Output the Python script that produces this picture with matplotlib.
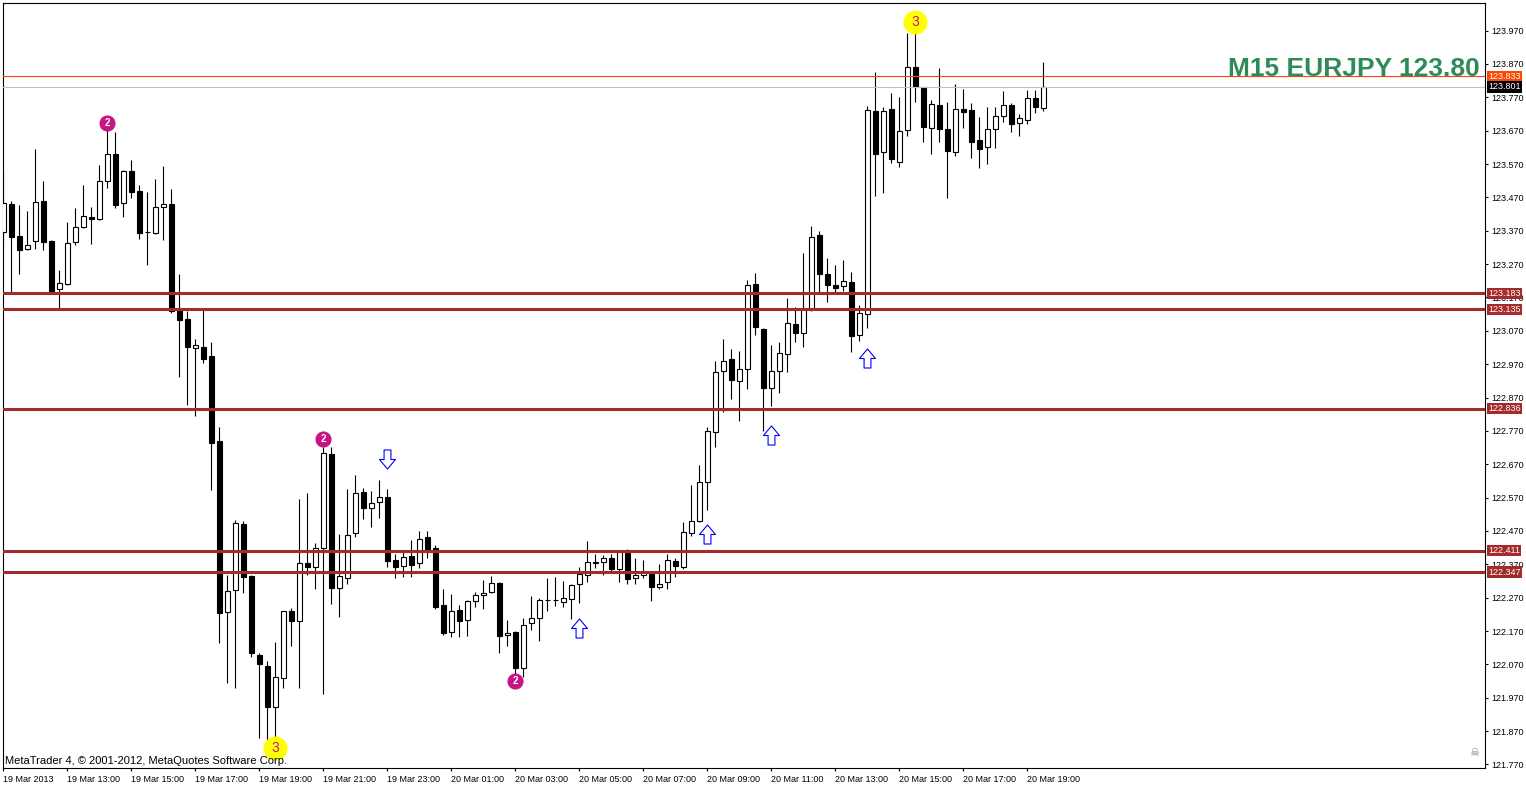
import numpy as np
import matplotlib
matplotlib.use("Agg")
import matplotlib.pyplot as plt
from matplotlib.path import Path
from matplotlib.transforms import blended_transform_factory

plt.rcParams["font.family"] = ["Liberation Sans", "DejaVu Sans"]

# EURJPY M15 bars, 19 Mar 2013 11:00 -> 20 Mar 2013 19:30 (bar index 0..130)
opens = [
    123.365, 123.449, 123.354, 123.314, 123.338, 123.459, 123.339, 123.195, 123.210, 123.335,
    123.380, 123.412, 123.404, 123.518, 123.600, 123.452, 123.549, 123.489, 123.367, 123.364,
    123.440, 123.449, 123.133, 123.105, 123.018, 123.021, 122.995, 122.740, 122.228, 122.292,
    122.491, 122.335, 122.097, 122.065, 121.941, 122.028, 122.229, 122.201, 122.373, 122.361,
    122.418, 122.700, 122.298, 122.328, 122.463, 122.586, 122.538, 122.556, 122.571, 122.383,
    122.366, 122.395, 122.373, 122.451, 122.418, 122.248, 122.168, 122.232, 122.202, 122.259,
    122.277, 122.286, 122.313, 122.157, 122.167, 122.060, 122.193, 122.208, 122.262, 122.262,
    122.258, 122.265, 122.310, 122.337, 122.376, 122.376, 122.388, 122.355, 122.403, 122.328,
    122.337, 122.340, 122.303, 122.316, 122.380, 122.361, 122.463, 122.500, 122.618, 122.766,
    122.951, 122.986, 122.921, 122.955, 123.211, 123.076, 122.898, 122.950, 123.000, 123.090,
    123.063, 123.135, 123.357, 123.240, 123.207, 123.204, 123.216, 123.056, 123.120, 123.729,
    123.605, 123.735, 123.577, 123.672, 123.860, 123.800, 123.677, 123.746, 123.674, 123.607,
    123.735, 123.732, 123.642, 123.620, 123.674, 123.713, 123.746, 123.692, 123.701, 123.767,
    123.737,
]
highs = [
    123.547, 123.459, 123.447, 123.429, 123.615, 123.519, 123.342, 123.253, 123.396, 123.438,
    123.507, 123.441, 123.567, 123.675, 123.666, 123.552, 123.582, 123.507, 123.486, 123.525,
    123.564, 123.495, 123.241, 123.128, 123.045, 123.138, 123.036, 122.781, 122.338, 122.503,
    122.500, 122.337, 122.103, 122.080, 122.138, 122.230, 122.238, 122.565, 122.583, 122.433,
    122.723, 122.721, 122.460, 122.595, 122.637, 122.598, 122.590, 122.623, 122.595, 122.400,
    122.409, 122.443, 122.470, 122.470, 122.427, 122.295, 122.281, 122.248, 122.263, 122.286,
    122.323, 122.335, 122.318, 122.203, 122.170, 122.208, 122.275, 122.268, 122.328, 122.332,
    122.320, 122.310, 122.362, 122.440, 122.400, 122.398, 122.400, 122.408, 122.415, 122.388,
    122.383, 122.342, 122.370, 122.401, 122.388, 122.496, 122.608, 122.668, 122.783, 122.981,
    123.046, 123.016, 123.010, 123.223, 123.243, 123.078, 123.028, 123.036, 123.168, 123.141,
    123.304, 123.384, 123.369, 123.288, 123.268, 123.283, 123.246, 123.148, 123.744, 123.847,
    123.740, 123.782, 123.771, 123.963, 123.969, 123.802, 123.762, 123.857, 123.756, 123.810,
    123.795, 123.752, 123.711, 123.740, 123.741, 123.789, 123.752, 123.720, 123.792, 123.792,
    123.876,
]
lows = [
    123.327, 123.180, 123.240, 123.313, 123.314, 123.311, 123.187, 123.136, 123.207, 123.328,
    123.378, 123.331, 123.402, 123.499, 123.437, 123.412, 123.469, 123.346, 123.266, 123.361,
    123.343, 123.123, 122.933, 122.848, 122.815, 122.975, 122.593, 122.133, 122.015, 122.000,
    122.283, 122.093, 121.850, 121.843, 121.840, 121.998, 122.126, 121.998, 122.338, 122.295,
    121.980, 122.250, 122.213, 122.310, 122.451, 122.505, 122.483, 122.510, 122.361, 122.328,
    122.331, 122.331, 122.360, 122.388, 122.235, 122.158, 122.153, 122.153, 122.156, 122.243,
    122.237, 122.284, 122.105, 122.126, 122.038, 122.033, 122.173, 122.141, 122.231, 122.246,
    122.243, 122.206, 122.255, 122.318, 122.358, 122.338, 122.351, 122.318, 122.311, 122.312,
    122.330, 122.261, 122.296, 122.297, 122.333, 122.356, 122.454, 122.498, 122.533, 122.723,
    122.828, 122.866, 122.801, 122.895, 123.058, 122.771, 122.846, 122.884, 122.948, 123.036,
    123.023, 123.128, 123.183, 123.156, 123.180, 123.188, 123.008, 123.038, 123.078, 123.475,
    123.484, 123.572, 123.560, 123.655, 123.755, 123.637, 123.600, 123.637, 123.469, 123.595,
    123.677, 123.589, 123.559, 123.570, 123.619, 123.695, 123.667, 123.655, 123.691, 123.724,
    123.730,
]
closes = [
    123.452, 123.352, 123.311, 123.326, 123.455, 123.337, 123.190, 123.214, 123.332, 123.380,
    123.413, 123.406, 123.519, 123.600, 123.448, 123.549, 123.487, 123.364, 123.365, 123.440,
    123.449, 123.129, 123.101, 123.021, 123.027, 122.987, 122.735, 122.225, 122.289, 122.493,
    122.331, 122.103, 122.070, 121.943, 122.031, 122.229, 122.201, 122.373, 122.361, 122.418,
    122.703, 122.300, 122.335, 122.457, 122.583, 122.538, 122.553, 122.571, 122.381, 122.363,
    122.393, 122.368, 122.445, 122.416, 122.243, 122.165, 122.229, 122.201, 122.259, 122.277,
    122.283, 122.313, 122.156, 122.163, 122.059, 122.187, 122.208, 122.262, 122.262, 122.263,
    122.268, 122.307, 122.340, 122.376, 122.374, 122.388, 122.357, 122.406, 122.325, 122.337,
    122.346, 122.303, 122.311, 122.382, 122.366, 122.466, 122.499, 122.616, 122.770, 122.946,
    122.979, 122.923, 122.955, 123.208, 123.080, 122.898, 122.949, 123.003, 123.093, 123.063,
    123.135, 123.350, 123.240, 123.206, 123.197, 123.219, 123.053, 123.123, 123.732, 123.599,
    123.729, 123.584, 123.669, 123.860, 123.800, 123.680, 123.749, 123.676, 123.610, 123.735,
    123.725, 123.637, 123.616, 123.674, 123.713, 123.746, 123.691, 123.707, 123.767, 123.742,
    123.801,
]

# horizontal levels
level_prices = [123.183, 123.135, 122.836, 122.411, 122.347]
ask_price = 123.833
bid_price = 123.801

# signal markers (bar index, price)
sig2_bars = [13, 40, 64]
sig2_prices = [123.692, 122.745, 122.020]
sig3_bars = [34, 114]
sig3_prices = [121.819, 123.995]
up_bars = [72, 88, 96, 108]
up_prices = [122.179, 122.462, 122.759, 122.989]
down_bars = [48]
down_prices = [122.687]

# time axis labels (every 8 bars = 2 h)
time_labels = ["19 Mar 2013", "19 Mar 13:00", "19 Mar 15:00", "19 Mar 17:00", "19 Mar 19:00",
               "19 Mar 21:00", "19 Mar 23:00", "20 Mar 01:00", "20 Mar 03:00", "20 Mar 05:00",
               "20 Mar 07:00", "20 Mar 09:00", "20 Mar 11:00", "20 Mar 13:00", "20 Mar 15:00",
               "20 Mar 17:00", "20 Mar 19:00"]
price_ticks = [121.77, 121.87, 121.97, 122.07, 122.17, 122.27, 122.37, 122.47, 122.57, 122.67,
               122.77, 122.87, 122.97, 123.07, 123.17, 123.27, 123.37, 123.47, 123.57, 123.67,
               123.77, 123.87, 123.97]

W, H = 1526, 785
fig = plt.figure(figsize=(W / 100, H / 100), dpi=100)
fig.patch.set_facecolor("white")
ax = fig.add_axes([2.7 / W, (H - 768.3) / H, (1485 - 2.7) / W, (768.3 - 2.7) / H])
ax.set_xlim(-0.075, 185.21)
ax.set_ylim(121.7586, 124.0536)

o = np.array(opens); h = np.array(highs); l = np.array(lows); c = np.array(closes)
idx = np.arange(len(o))
bull = c > o
bottoms = np.minimum(o, c)
heights = np.maximum(np.abs(c - o), 0.002)

ax.vlines(idx, l, h, color="black", lw=0.8, zorder=2)
ax.bar(idx, heights, bottom=bottoms, width=0.6, color=np.where(bull, "white", "black"),
       edgecolor="black", linewidth=0.8, zorder=3)

for p in level_prices:
    ax.axhline(p, color="#A52A2A", lw=2.2, zorder=4)
ax.axhline(ask_price, color="#FF4500", lw=0.8, zorder=4)
ax.axhline(bid_price, color="#C0C0C0", lw=0.8, zorder=4)

# signal circles
ax.plot(sig2_bars, sig2_prices, "o", ms=10.6, mfc="#C71585", mec="#C71585", ls="none", zorder=5)
for b, p in zip(sig2_bars, sig2_prices):
    ax.text(b, p, "2", color="white", fontsize=7, fontweight="bold", ha="center", va="center", zorder=6)
ax.plot(sig3_bars, sig3_prices, "o", ms=16.3, mfc="#FFFF00", mec="#FFFF00", ls="none", zorder=5)
for b, p in zip(sig3_bars, sig3_prices):
    ax.text(b, p, "3", color="#C71585", fontsize=10, ha="center", va="center", zorder=6)

# hollow blue arrows
up_verts = [(-0.18, -0.5), (0.18, -0.5), (0.18, 0.0), (0.42, 0.0), (0.0, 0.5),
            (-0.42, 0.0), (-0.18, 0.0), (-0.18, -0.5)]
codes = [Path.MOVETO] + [Path.LINETO] * 6 + [Path.CLOSEPOLY]
up_arrow = Path(up_verts, codes)
down_arrow = Path([(x, -y) for x, y in up_verts], codes)
ax.plot(up_bars, up_prices, marker=up_arrow, ms=13.7, mfc="white", mec="#0000FF", mew=0.8,
        ls="none", zorder=5)
ax.plot(down_bars, down_prices, marker=down_arrow, ms=13.7, mfc="white", mec="#0000FF", mew=0.8,
        ls="none", zorder=5)

# axes styling
for s in ax.spines.values():
    s.set_linewidth(0.8)
    s.set_color("black")
ax.yaxis.tick_right()
ax.set_yticks(price_ticks)
ax.set_yticklabels([f"{t:.3f}" for t in price_ticks])
ax.set_xticks(np.arange(len(time_labels)) * 8)
ax.set_xticklabels(time_labels, ha="left")
ax.tick_params(axis="both", direction="out", length=2.5, width=0.8, labelsize=6.5, pad=2,
               colors="black")

# price labels on the scale
tr = blended_transform_factory(ax.transAxes, ax.transData)
xl = 1.0 + 3 / 1482
for p in level_prices:
    ax.text(xl, p, f"{p:.3f}", transform=tr, color="white", fontsize=6.5, va="center", ha="left",
            bbox=dict(facecolor="#A52A2A", edgecolor="none", pad=0.8), clip_on=False, zorder=10)
ax.text(xl, ask_price, f"{ask_price:.3f}", transform=tr, color="white", fontsize=6.5, va="center",
        ha="left", bbox=dict(facecolor="#FF4500", edgecolor="none", pad=0.8), clip_on=False, zorder=10)
ax.text(xl, bid_price, f"{bid_price:.3f}", transform=tr, color="white", fontsize=6.5, va="center",
        ha="left", bbox=dict(facecolor="black", edgecolor="none", pad=0.8), clip_on=False, zorder=10)

fig.text(1480 / W, 1 - 76 / H, "M15 EURJPY 123.80", ha="right", va="baseline",
         color="#2E8B57", fontsize=19, fontweight="bold")
fig.text(5 / W, 1 - 761 / H, "MetaTrader 4, \u00a9 2001-2012, MetaQuotes Software Corp.",
         ha="left", va="center", fontsize=8, color="black")
fig.text(1474 / W, 1 - 753 / H, "\u2620", ha="center", va="center", fontsize=8,
         color="#808080", family="DejaVu Sans")

fig.savefig("out.png", dpi=100)
